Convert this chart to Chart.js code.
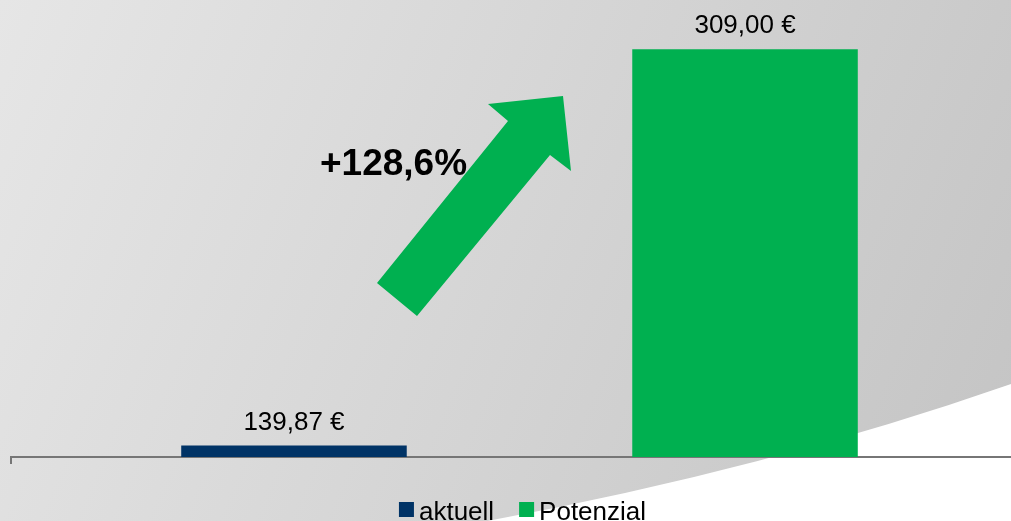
<!DOCTYPE html>
<html>
<head>
<meta charset="utf-8">
<script src="https://cdn.jsdelivr.net/npm/chart.js@4/dist/chart.umd.min.js"></script>
<style>
    html, body { margin: 0; padding: 0; overflow: hidden; background: #fff; }
    /* the original picture is cropped on the right, so the canvas runs past the window */
    #wrap { width: 1028px; height: 521px; position: relative; }
</style>
</head>
<body>
<div id="wrap"><canvas id="chart"></canvas></div>
<script>
'use strict';

// data
var categories = [''];
var seriesNames = ['aktuell', 'Potenzial'];
var seriesValues = [139.87, 309.00];
var growthLabel = '+128,6%';

var seriesColors = ['#003366', '#00b050'];
var font = "'Liberation Sans', Arial, sans-serif";
var viewWidth = 1011;

var euro = function (v) {
    return v.toFixed(2).replace('.', ',') + ' \u20ac';
};

// grey gradient with the white swoosh in the lower right
var backgroundPlugin = {
    id: 'background',
    beforeDraw: function (chart) {
        var ctx = chart.ctx;
        var w = viewWidth, h = chart.height;
        ctx.save();
        var grad = ctx.createLinearGradient(0, 0, w, h * 0.8);
        grad.addColorStop(0, '#e6e6e6');
        grad.addColorStop(1, '#c5c5c5');
        ctx.fillStyle = grad;
        ctx.fillRect(0, 0, chart.width, h);

        ctx.fillStyle = '#ffffff';
        ctx.beginPath();
        ctx.moveTo(w * 0.482, h);
        ctx.quadraticCurveTo(w * 0.76, h * 0.9, w, h * 0.737);
        ctx.lineTo(chart.width, h * 0.7);
        ctx.lineTo(chart.width, h);
        ctx.closePath();
        ctx.fill();
        ctx.restore();
    }
};

// value labels, arrow, percentage text and legend
var overlayPlugin = {
    id: 'overlay',
    afterDatasetsDraw: function (chart) {
        var ctx = chart.ctx;
        var area = chart.chartArea;
        ctx.save();

        // value labels above bars
        ctx.font = '26px ' + font;
        ctx.fillStyle = '#000';
        ctx.textAlign = 'center';
        ctx.textBaseline = 'alphabetic';
        chart.data.datasets.forEach(function (ds, i) {
            var bar = chart.getDatasetMeta(i).data[0];
            ctx.fillText(euro(ds.data[0]), bar.x, bar.y - 16);
        });

        // green arrow between the bars
        ctx.fillStyle = '#00b050';
        ctx.beginPath();
        ctx.moveTo(377, 283);
        ctx.lineTo(508, 121);
        ctx.lineTo(488, 104);
        ctx.lineTo(563, 96);
        ctx.lineTo(571, 171);
        ctx.lineTo(550, 155);
        ctx.lineTo(417, 316);
        ctx.closePath();
        ctx.fill();

        ctx.font = 'bold 37px ' + font;
        ctx.fillStyle = '#000';
        ctx.textAlign = 'left';
        ctx.fillText(growthLabel, 320, 175);

        // legend
        ctx.font = '26px ' + font;
        var box = 15, gap = 5, spacing = 25;
        var widths = chart.data.datasets.map(function (ds) {
            return ctx.measureText(ds.label).width;
        });
        var total = 0;
        widths.forEach(function (tw, i) {
            total += box + gap + tw + (i ? spacing : 0);
        });
        var x = (area.left + area.right) / 2 + 3 - total / 2;
        chart.data.datasets.forEach(function (ds, i) {
            ctx.fillStyle = ds.backgroundColor;
            ctx.fillRect(x, 502, box, box);
            ctx.fillStyle = '#000';
            ctx.fillText(ds.label, x + box + gap, 520);
            x += box + gap + widths[i] + spacing;
        });
        ctx.restore();
    }
};

var datasets = [];
for (var i = 0; i < seriesNames.length; i++) {
    datasets.push({
        label: seriesNames[i],
        data: [seriesValues[i]],
        backgroundColor: seriesColors[i],
        borderWidth: 0,
        barPercentage: 0.5,
        categoryPercentage: 0.887
    });
}

new Chart(document.getElementById('chart'), {
    type: 'bar',
    data: { labels: categories, datasets: datasets },
    options: {
        responsive: true,
        maintainAspectRatio: false,
        animation: false,
        layout: { padding: { top: 0, left: 11, right: 0, bottom: 57 } },
        plugins: {
            legend: { display: false },
            tooltip: { enabled: false }
        },
        scales: {
            x: {
                ticks: { display: false },
                grid: {
                    display: true,
                    drawOnChartArea: false,
                    drawTicks: true,
                    tickLength: 7,
                    color: '#767676',
                    lineWidth: 2
                },
                border: { display: true, color: '#767676', width: 2 }
            },
            y: {
                display: false,
                min: 135,
                max: 330
            }
        }
    },
    plugins: [backgroundPlugin, overlayPlugin]
});
</script>
</body>
</html>
